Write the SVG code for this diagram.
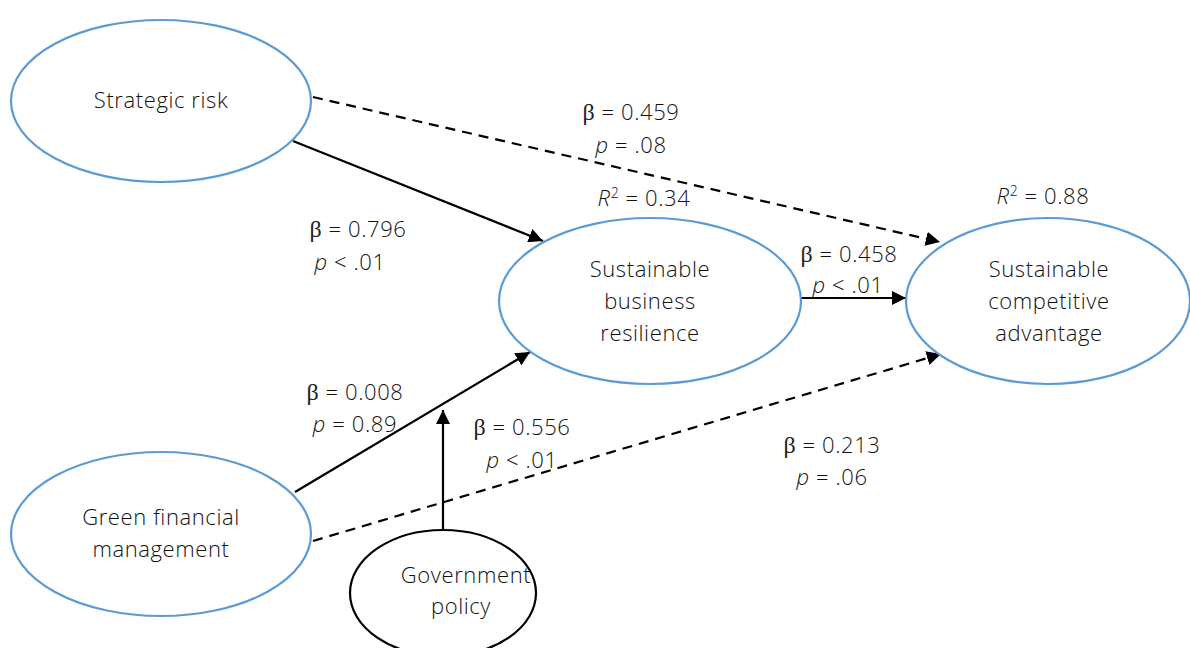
<svg xmlns="http://www.w3.org/2000/svg" width="1190" height="648" viewBox="0 0 1190 648">
<defs>
<style>
.n{fill:#fff;stroke:#5b9bd5;stroke-width:2.2}
.g{fill:#fff;stroke:#000;stroke-width:2.2}
.t{font-family:"Open Sans",Lato,"Liberation Sans",sans-serif;font-weight:300;font-size:22px;letter-spacing:0.6px;fill:#111;text-anchor:middle}
.b{font-family:"Liberation Serif",serif;font-weight:normal;font-size:24px;fill:#222}
.c{stroke:#000;stroke-width:2.2;fill:none}
.d{stroke-dasharray:10 7}
</style>
<marker id="a" viewBox="0 0 10 10" refX="10" refY="5" markerWidth="6.5" markerHeight="6.5" orient="auto"><path d="M0,0L10,5L0,10z" fill="#000"/></marker>
</defs>
<g id="connectors">
<line class="c d" x1="313" y1="97" x2="940" y2="242" marker-end="url(#a)"/>
<line class="c" x1="293" y1="141" x2="543" y2="241" marker-end="url(#a)"/>
<line class="c" x1="801" y1="298" x2="906" y2="298" marker-end="url(#a)"/>
<line class="c" x1="295" y1="492" x2="530" y2="352" marker-end="url(#a)"/>
<line class="c d" x1="313" y1="541" x2="941" y2="354" marker-end="url(#a)"/>
<line class="c" x1="443" y1="530" x2="443" y2="410" marker-end="url(#a)"/>
</g>
<g id="strategic-risk">
<ellipse class="n" cx="161" cy="101" rx="150" ry="81"/>
<text class="t" x="161" y="108">Strategic risk</text>
</g>
<g id="sbr">
<ellipse class="n" cx="650" cy="301" rx="151" ry="83"/>
<text class="t" x="650" y="277">Sustainable</text>
<text class="t" x="650" y="309">business</text>
<text class="t" x="650" y="341">resilience</text>
</g>
<g id="sca">
<ellipse class="n" cx="1048" cy="301" rx="142" ry="83"/>
<text class="t" x="1049" y="277">Sustainable</text>
<text class="t" x="1049" y="309">competitive</text>
<text class="t" x="1049" y="341">advantage</text>
</g>
<g id="gfm">
<ellipse class="n" cx="161" cy="534" rx="150" ry="82"/>
<text class="t" x="161" y="525">Green financial</text>
<text class="t" x="161" y="557">management</text>
</g>
<g id="gov">
<ellipse class="g" cx="443" cy="593" rx="93" ry="63"/>
<text class="t" x="466" y="583">Government</text>
<text class="t" x="461" y="614">policy</text>
</g>
<g id="labels">
<text class="t" x="631" y="120"><tspan class="b">β</tspan> = 0.459</text>
<text class="t" x="631" y="153"><tspan font-style="italic">p</tspan> = .08</text>
<text class="t" x="644" y="206"><tspan font-style="italic">R</tspan><tspan font-size="14" dy="-8">2</tspan><tspan dy="8"> = 0.34</tspan></text>
<text class="t" x="358" y="237"><tspan class="b">β</tspan> = 0.796</text>
<text class="t" x="350" y="270"><tspan font-style="italic">p</tspan> &lt; .01</text>
<text class="t" x="849" y="262"><tspan class="b">β</tspan> = 0.458</text>
<text class="t" x="848" y="293"><tspan font-style="italic">p</tspan> &lt; .01</text>
<text class="t" x="1043" y="204"><tspan font-style="italic">R</tspan><tspan font-size="14" dy="-8">2</tspan><tspan dy="8"> = 0.88</tspan></text>
<text class="t" x="355" y="400"><tspan class="b">β</tspan> = 0.008</text>
<text class="t" x="355" y="432"><tspan font-style="italic">p</tspan> = 0.89</text>
<text class="t" x="522" y="435"><tspan class="b">β</tspan> = 0.556</text>
<text class="t" x="522" y="468"><tspan font-style="italic">p</tspan> &lt; .01</text>
<text class="t" x="832" y="453"><tspan class="b">β</tspan> = 0.213</text>
<text class="t" x="832" y="485"><tspan font-style="italic">p</tspan> = .06</text>
</g>
</svg>
